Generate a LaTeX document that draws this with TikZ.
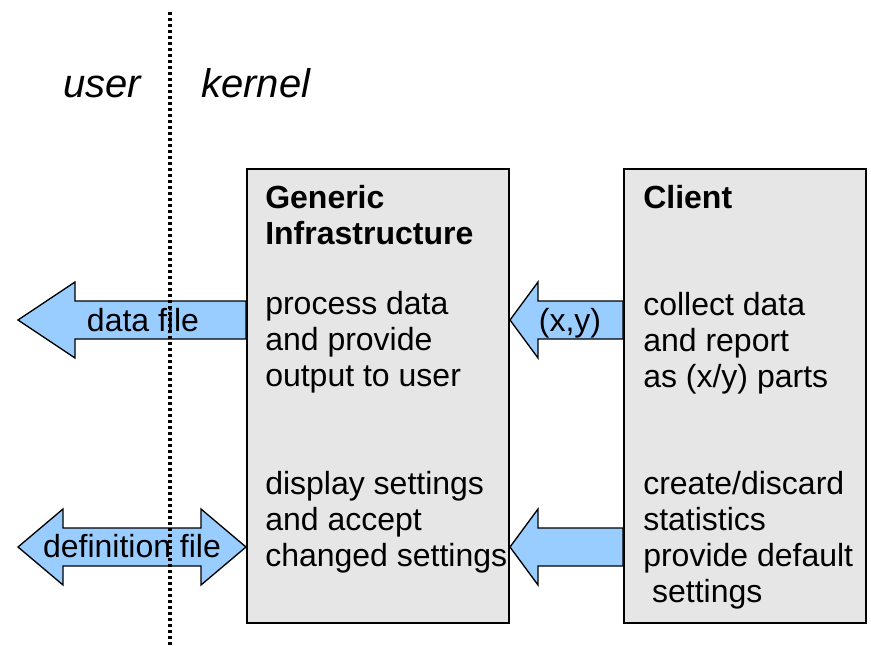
\documentclass[tikz,border=0pt]{standalone}
\usepackage{fontspec}
\setmainfont{Liberation Sans}
\usetikzlibrary{calc}
\definecolor{boxgray}{HTML}{E6E6E6}
\definecolor{arrowblue}{HTML}{99CCFF}

% left-pointing block arrow: #1 tail end, #2 tip, #3 head length, #4 shaft half width, #5 head half width
\newcommand\leftblock[5]{%
  \draw[blockarrow] ($(#1)+(0,-#4)$) -- ($(#2)+(#3,-#4)$) -- ($(#2)+(#3,-#5)$) -- (#2)
    -- ($(#2)+(#3,#5)$) -- ($(#2)+(#3,#4)$) -- ($(#1)+(0,#4)$) -- cycle;}
% double-headed block arrow: #1 left tip, #2 right tip, #3 head length, #4 shaft half width, #5 head half width
\newcommand\twowayblock[5]{%
  \draw[blockarrow] (#1) -- ($(#1)+(#3,-#5)$) -- ($(#1)+(#3,-#4)$) -- ($(#2)+(-#3,-#4)$)
    -- ($(#2)+(-#3,-#5)$) -- (#2) -- ($(#2)+(-#3,#5)$) -- ($(#2)+(-#3,#4)$)
    -- ($(#1)+(#3,#4)$) -- ($(#1)+(#3,#5)$) -- cycle;}

\begin{document}
\begin{tikzpicture}[x=0.75pt,y=-0.75pt,
  box/.style={draw=black,line width=1.5pt,fill=boxgray,inner sep=0pt,anchor=north west,
    minimum height=340.5pt},
  blockarrow/.style={draw=black,line width=1pt,fill=arrowblue,line join=miter},
  para/.style={font=\fontsize{24}{27}\selectfont,align=left,inner sep=0pt,anchor=north west},
  label/.style={font=\fontsize{24}{27}\selectfont,inner sep=0pt,anchor=base},
  side/.style={font=\fontsize{30}{36}\selectfont\itshape,inner sep=0pt,anchor=base west},
  divider/.style={line width=2.7pt,dash pattern=on 2.5pt off 2pt}]
\useasboundingbox (0,0) rectangle (871,646);

% the two components
\node[box,minimum width=196.5pt] (gi) at (246,168) {};
\node[box,minimum width=181.5pt] (cl) at (623,168) {};

% free ends of the outward arrows
\coordinate (dataEnd) at (18,320);
\coordinate (defEnd) at (18,547);

% arrows between user space and the components
\leftblock{gi.west |- dataEnd}{dataEnd}{57}{19}{38}
\leftblock{cl.west |- dataEnd}{gi.east |- dataEnd}{28}{19}{38}
\twowayblock{defEnd}{gi.west |- defEnd}{45}{19}{38}
\leftblock{cl.west |- defEnd}{gi.east |- defEnd}{28}{19}{38}

% arrow labels
\node[label] (datafile) at (143,331) {data file};
\node[label] (xy) at (570,331) {(x,y)};
\node[label] (deffile) at (132,557) {definition file};

% text of the generic infrastructure
\node[para,font=\fontsize{24}{27}\selectfont\bfseries] (gititle) at (265,182.8) {\strut Generic\\Infrastructure};
\node[para] (giout) at (265,288.8) {\strut process data\\and provide\\output to user};
\node[para] (giset) at (265,468.8) {\strut display settings\\and accept\\changed settings};

% text of the client
\node[para,font=\fontsize{24}{27}\selectfont\bfseries] (cltitle) at (643,182.8) {\strut Client};
\node[para] (clout) at (643,289.8) {\strut collect data\\and report\\as (x/y) parts};
\node[para] (clset) at (643,468.8) {\strut create/discard\\statistics\\provide default\\\ settings};

% user / kernel boundary
\node[side] (user) at (63,97) {user};
\node[side] (kernel) at (201,97) {kernel};
\coordinate (divTop) at (170,12);
\coordinate (divBottom) at (170,646);
\draw[divider] (divTop) -- (divBottom);
\end{tikzpicture}
\end{document}
